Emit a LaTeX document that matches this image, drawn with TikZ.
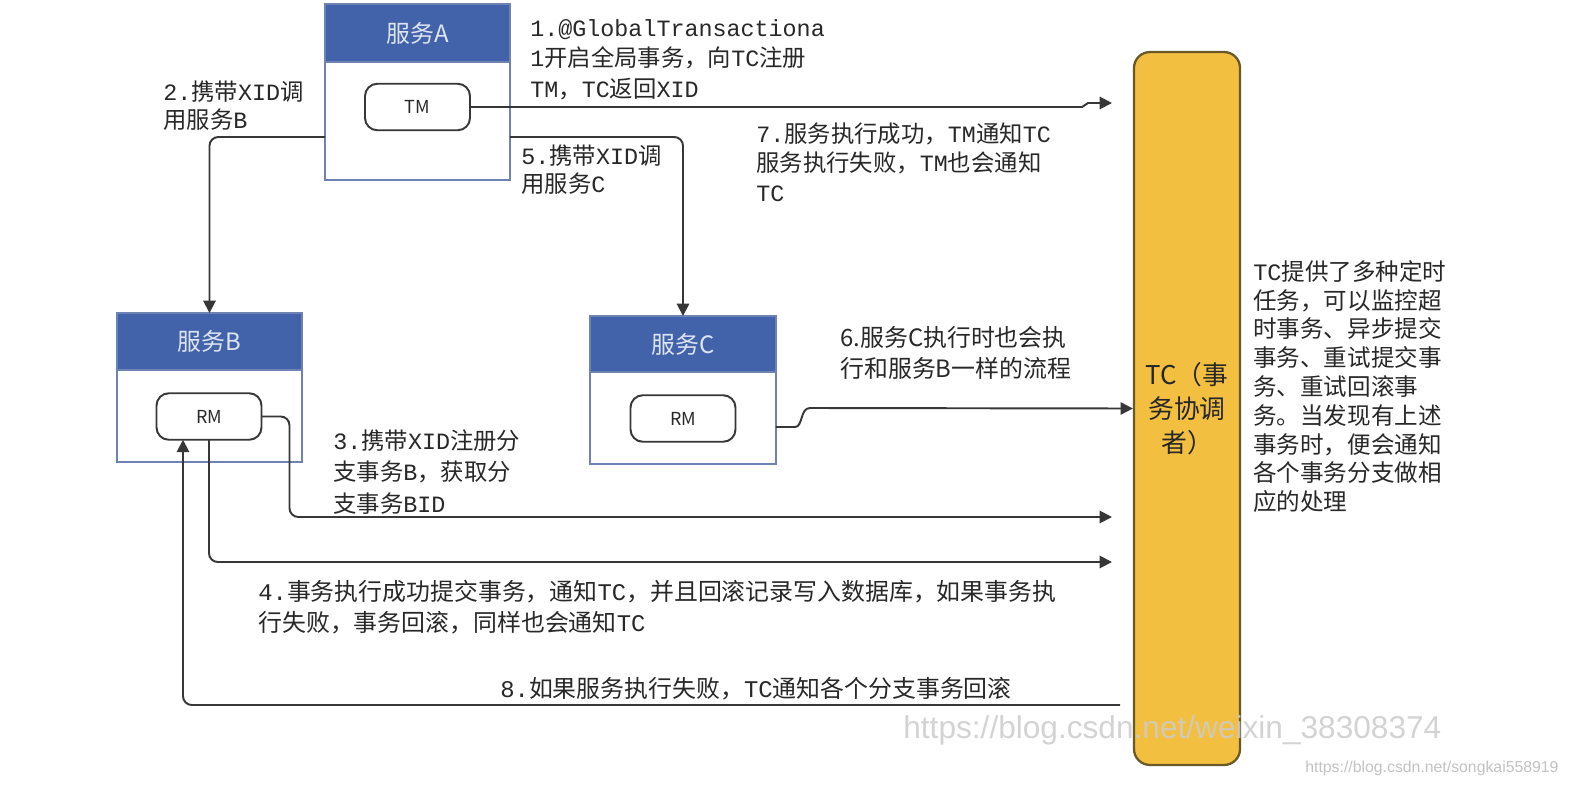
\documentclass[tikz,border=0pt]{standalone}
\usepackage{fontspec}
\setmainfont{Noto Sans CJK SC}
\newfontfamily\cjk{Noto Sans CJK SC}
\newfontfamily\mono{Liberation Mono}
\newfontfamily\wmfont{Liberation Sans}
\usetikzlibrary{arrows.meta}
\definecolor{hdrblue}{RGB}{66,98,170}
\definecolor{boxline}{RGB}{110,130,180}
\definecolor{hdrtext}{RGB}{222,229,242}
\definecolor{tcfill}{RGB}{243,191,65}
\definecolor{tcline}{RGB}{105,88,40}
\definecolor{lineclr}{RGB}{55,55,55}
\definecolor{txt}{RGB}{40,40,40}
\newcommand{\ml}[1]{{\mono #1}}
\begin{document}
\begin{tikzpicture}[x=0.02cm,y=-0.02cm,
  svcbox/.style={draw=boxline, fill=white, line width=0.9pt, minimum width=3.7cm, inner sep=0pt, outer sep=0pt},
  svchead/.style={fill=hdrblue, draw=boxline, line width=0.9pt, minimum width=3.7cm, inner sep=0pt, outer sep=0pt, text=hdrtext, font=\cjk\fontsize{13.6}{16}\selectfont},
  rmbox/.style={draw=lineclr, fill=white, rounded corners=7pt, line width=1.1pt, minimum width=2.1cm, minimum height=0.93cm, inner sep=0pt, outer sep=0pt, text=txt, font=\cjk\fontsize{10.2}{12}\selectfont},
  conn/.style={draw=lineclr, line width=1.1pt, rounded corners=5pt, -{Triangle[length=7pt,width=7pt]}},
  lbl/.style={anchor=north west, inner sep=0pt, align=left, text=txt, font=\cjk\fontsize{13.3}{17.3}\selectfont},
  wm/.style={anchor=west, inner sep=0pt, text=white!80!black, opacity=0.85}
]
\useasboundingbox (0,0) rectangle (1570,788);
\fill[white] (0,0) rectangle (1570,788);

% service A
\node[svcbox, minimum height=3.52cm] (A) at (417.5,92) {};
\node[svchead, minimum height=1.16cm, anchor=north] (Ah) at (A.north) {服务A};
\node[rmbox] (TM) at (417.5,107) {TM};

% service B
\node[svcbox, minimum height=2.98cm] (B) at (209.5,387.5) {};
\node[svchead, minimum height=1.14cm, anchor=north] (Bh) at (B.north) {服务B};
\node[rmbox] (RMB) at (209,416.5) {RM};

% service C
\node[svcbox, minimum width=3.72cm, minimum height=2.96cm] (C) at (683,390) {};
\node[svchead, minimum width=3.72cm, minimum height=1.12cm, anchor=north] (Ch) at (C.north) {服务C};
\node[rmbox] (RMC) at (683,418.5) {RM};

% TC
\node[draw=tcline, fill=tcfill, line width=1.3pt, rounded corners=9pt, minimum width=2.12cm, minimum height=14.26cm, inner sep=0pt, align=center, text=black!85, font=\cjk\fontsize{14.7}{19.3}\selectfont] (TC) at (1187,408.5) {TC（事\\务协调\\者）};

% connectors
\coordinate (yA) at (0,137);
\draw[conn] (A.west |- yA) -| (B.north);
\draw[conn] (A.east |- yA) -| (C.north);
\coordinate (tmEnd) at (1112,103);
\draw[conn, sharp corners] (TM.east) -- (1082,107) -- (1088,103) -- (tmEnd);
\coordinate (e3) at (1112,517);
\draw[conn] (RMB.east) -- ++(28,0) |- (e3);
\coordinate (e4) at (1112,562);
\draw[conn] (RMB.south) |- (e4);
\coordinate (s8) at (1120,705);
\coordinate (x8) at (183,0);
\draw[conn] (s8) -| (x8 |- RMB.south);
\coordinate (c6) at (0,427);
\draw[conn, sharp corners] (C.east |- c6) -- (795,427) .. controls (803,427) and (800,408) .. (810,408) -- (TC.west);

% labels
\node[lbl] (l1) at (530,19) {\ml{1.@GlobalTransactiona}\\\ml{1}开启全局事务，向\ml{TC}注册\\\ml{TM}，\ml{TC}返回\ml{XID}};
\node[lbl, font=\cjk\fontsize{13.3}{16.4}\selectfont] (l2) at (163,80) {\ml{2.}携带\ml{XID}调\\用服务\ml{B}};
\node[lbl, font=\cjk\fontsize{13.3}{16.4}\selectfont] (l5) at (521,144) {\ml{5.}携带\ml{XID}调\\用服务\ml{C}};
\node[lbl, font=\cjk\fontsize{13.3}{17}\selectfont] (l7) at (756,122) {\ml{7.}服务执行成功，\ml{TM}通知\ml{TC}\\服务执行失败，\ml{TM}也会通知\\\ml{TC}};
\node[lbl, font=\cjk\fontsize{13.6}{17.6}\selectfont] (l6) at (840,326) {6.服务C执行时也会执\\行和服务B一样的流程};
\node[lbl, font=\cjk\fontsize{13.3}{18.1}\selectfont] (l3) at (333,429) {\ml{3.}携带\ml{XID}注册分\\支事务\ml{B}，获取分\\支事务\ml{BID}};
\node[lbl, font=\cjk\fontsize{13.6}{17.6}\selectfont] (l4) at (258,580) {\ml{4.}事务执行成功提交事务，通知\ml{TC}，并且回滚记录写入数据库，如果事务执\\行失败，事务回滚，同样也会通知\ml{TC}};
\node[lbl, font=\cjk\fontsize{13.6}{16}\selectfont] (l8) at (500,677) {\ml{8.}如果服务执行失败，\ml{TC}通知各个分支事务回滚};
\node[lbl, font=\cjk\fontsize{13.4}{16.4}\selectfont] (note) at (1253,260) {\ml{TC}提供了多种定时\\任务，可以监控超\\时事务、异步提交\\事务、重试提交事\\务、重试回滚事\\务。当发现有上述\\事务时，便会通知\\各个事务分支做相\\应的处理};

% watermarks
\node[wm, font=\wmfont\fontsize{18}{20}\selectfont] (wm1) at (903,730) {https://blog.csdn.net/weixin\_38308374};
\node[wm, text=white!72!black, font=\wmfont\fontsize{9}{11}\selectfont] (wm2) at (1305,768) {https://blog.csdn.net/songkai558919};
\end{tikzpicture}
\end{document}
